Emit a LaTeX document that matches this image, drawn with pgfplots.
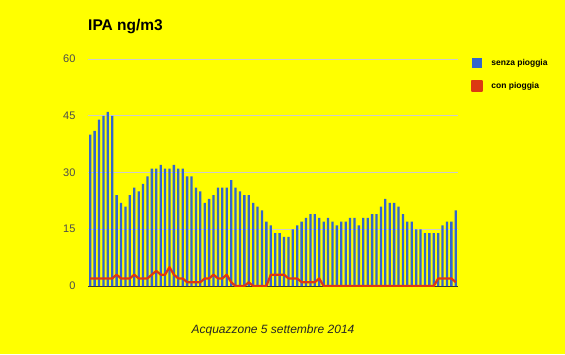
\documentclass[border=0pt]{standalone}
\usepackage{fontspec}
\setmainfont{Liberation Sans}
\usepackage{pgfplots}
\usepackage{pgfplotstable}
\pgfplotsset{compat=1.18}
\definecolor{gblue}{HTML}{3366CC}
\definecolor{gred}{HTML}{DC3912}
\definecolor{bg}{HTML}{FFFF00}
\pgfplotstableread{
x y
1 40
2 41
3 44
4 45
5 46
6 45
7 24
8 22
9 21
10 24
11 26
12 25
13 27
14 29
15 31
16 31
17 32
18 31
19 31
20 32
21 31
22 31
23 29
24 29
25 26
26 25
27 22
28 23
29 24
30 26
31 26
32 26
33 28
34 26
35 25
36 24
37 24
38 22
39 21
40 20
41 17
42 16
43 14
44 14
45 13
46 13
47 15
48 16
49 17
50 18
51 19
52 19
53 18
54 17
55 18
56 17
57 16
58 17
59 17
60 18
61 18
62 16
63 18
64 18
65 19
66 19
67 21
68 23
69 22
70 22
71 21
72 19
73 17
74 17
75 15
76 15
77 14
78 14
79 14
80 14
81 16
82 17
83 17
84 20
}\senza
\pgfplotstableread{
x y
1 2
2 2
3 2
4 2
5 2
6 2
7 3
8 2
9 2
10 2
11 3
12 2
13 2
14 2
15 3
16 4
17 3
18 3
19 5
20 3
21 2
22 2
23 1
24 1
25 1
26 1
27 2
28 2
29 3
30 2
31 2
32 3
33 1
34 0
35 0
36 0
37 1
38 0
39 0
40 0
41 0
42 3
43 3
44 3
45 3
46 2
47 2
48 2
49 1
50 1
51 1
52 1
53 2
54 0
55 0
56 0
57 0
58 0
59 0
60 0
61 0
62 0
63 0
64 0
65 0
66 0
67 0
68 0
69 0
70 0
71 0
72 0
73 0
74 0
75 0
76 0
77 0
78 0
79 0
80 2
81 2
82 2
83 2
84 1
}\con
\begin{document}
\begin{tikzpicture}[x=1pt,y=1pt]
\fill[bg] (0,0) rectangle (565,354);
\begin{axis}[
  at={(88pt,68pt)}, anchor=south west,
  scale only axis, width=370pt, height=227pt,
  xmin=0.5, xmax=84.5, ymin=0, ymax=60,
  axis x line*=bottom, axis y line*=left,
  x axis line style={-, draw=black!80, line width=1pt},
  y axis line style={draw=none},
  xtick=\empty, ytick={0,15,30,45,60},
  major tick length=0pt,
  ymajorgrids, grid style={draw=black!20, line width=0.8pt},
  yticklabel style={font=\fontsize{11}{13}\selectfont, text=black!70, xshift=-9pt},
  /pgf/number format/assume math mode=true,
  title={IPA ng/m3},
  title style={at={(0,1.097)}, anchor=base west, font=\fontsize{15.5}{18}\selectfont\bfseries, inner sep=0pt},
  xlabel={Acquazzone 5 settembre 2014},
  xlabel style={at={(0.5,-0.211)}, anchor=base, font=\fontsize{12}{14}\selectfont\itshape, text=black!85, inner sep=0pt},
  legend style={at={(1.035,1.01)}, anchor=north west, draw=none, fill=none,
    font=\fontsize{8.5}{10}\selectfont\bfseries, row sep=11pt, inner sep=0pt,
    /tikz/every odd column/.append style={column sep=6pt}},
  legend cell align=left,
]
\addplot[ybar, bar width=2.3pt, fill=gblue, draw=none,
  legend image code/.code={\fill[gblue] (0pt,-5pt) rectangle (10pt,5pt);}]
  table[x=x,y=y] {\senza};
\addlegendentry{senza pioggia}
\addplot[gred, line width=2.2pt, line join=round, mark=none,
  legend image code/.code={\fill[gred] (0pt,-5pt) rectangle (10pt,5pt);}]
  table[x=x,y=y] {\con};
\addlegendentry{con pioggia}
\end{axis}
\end{tikzpicture}
\end{document}
